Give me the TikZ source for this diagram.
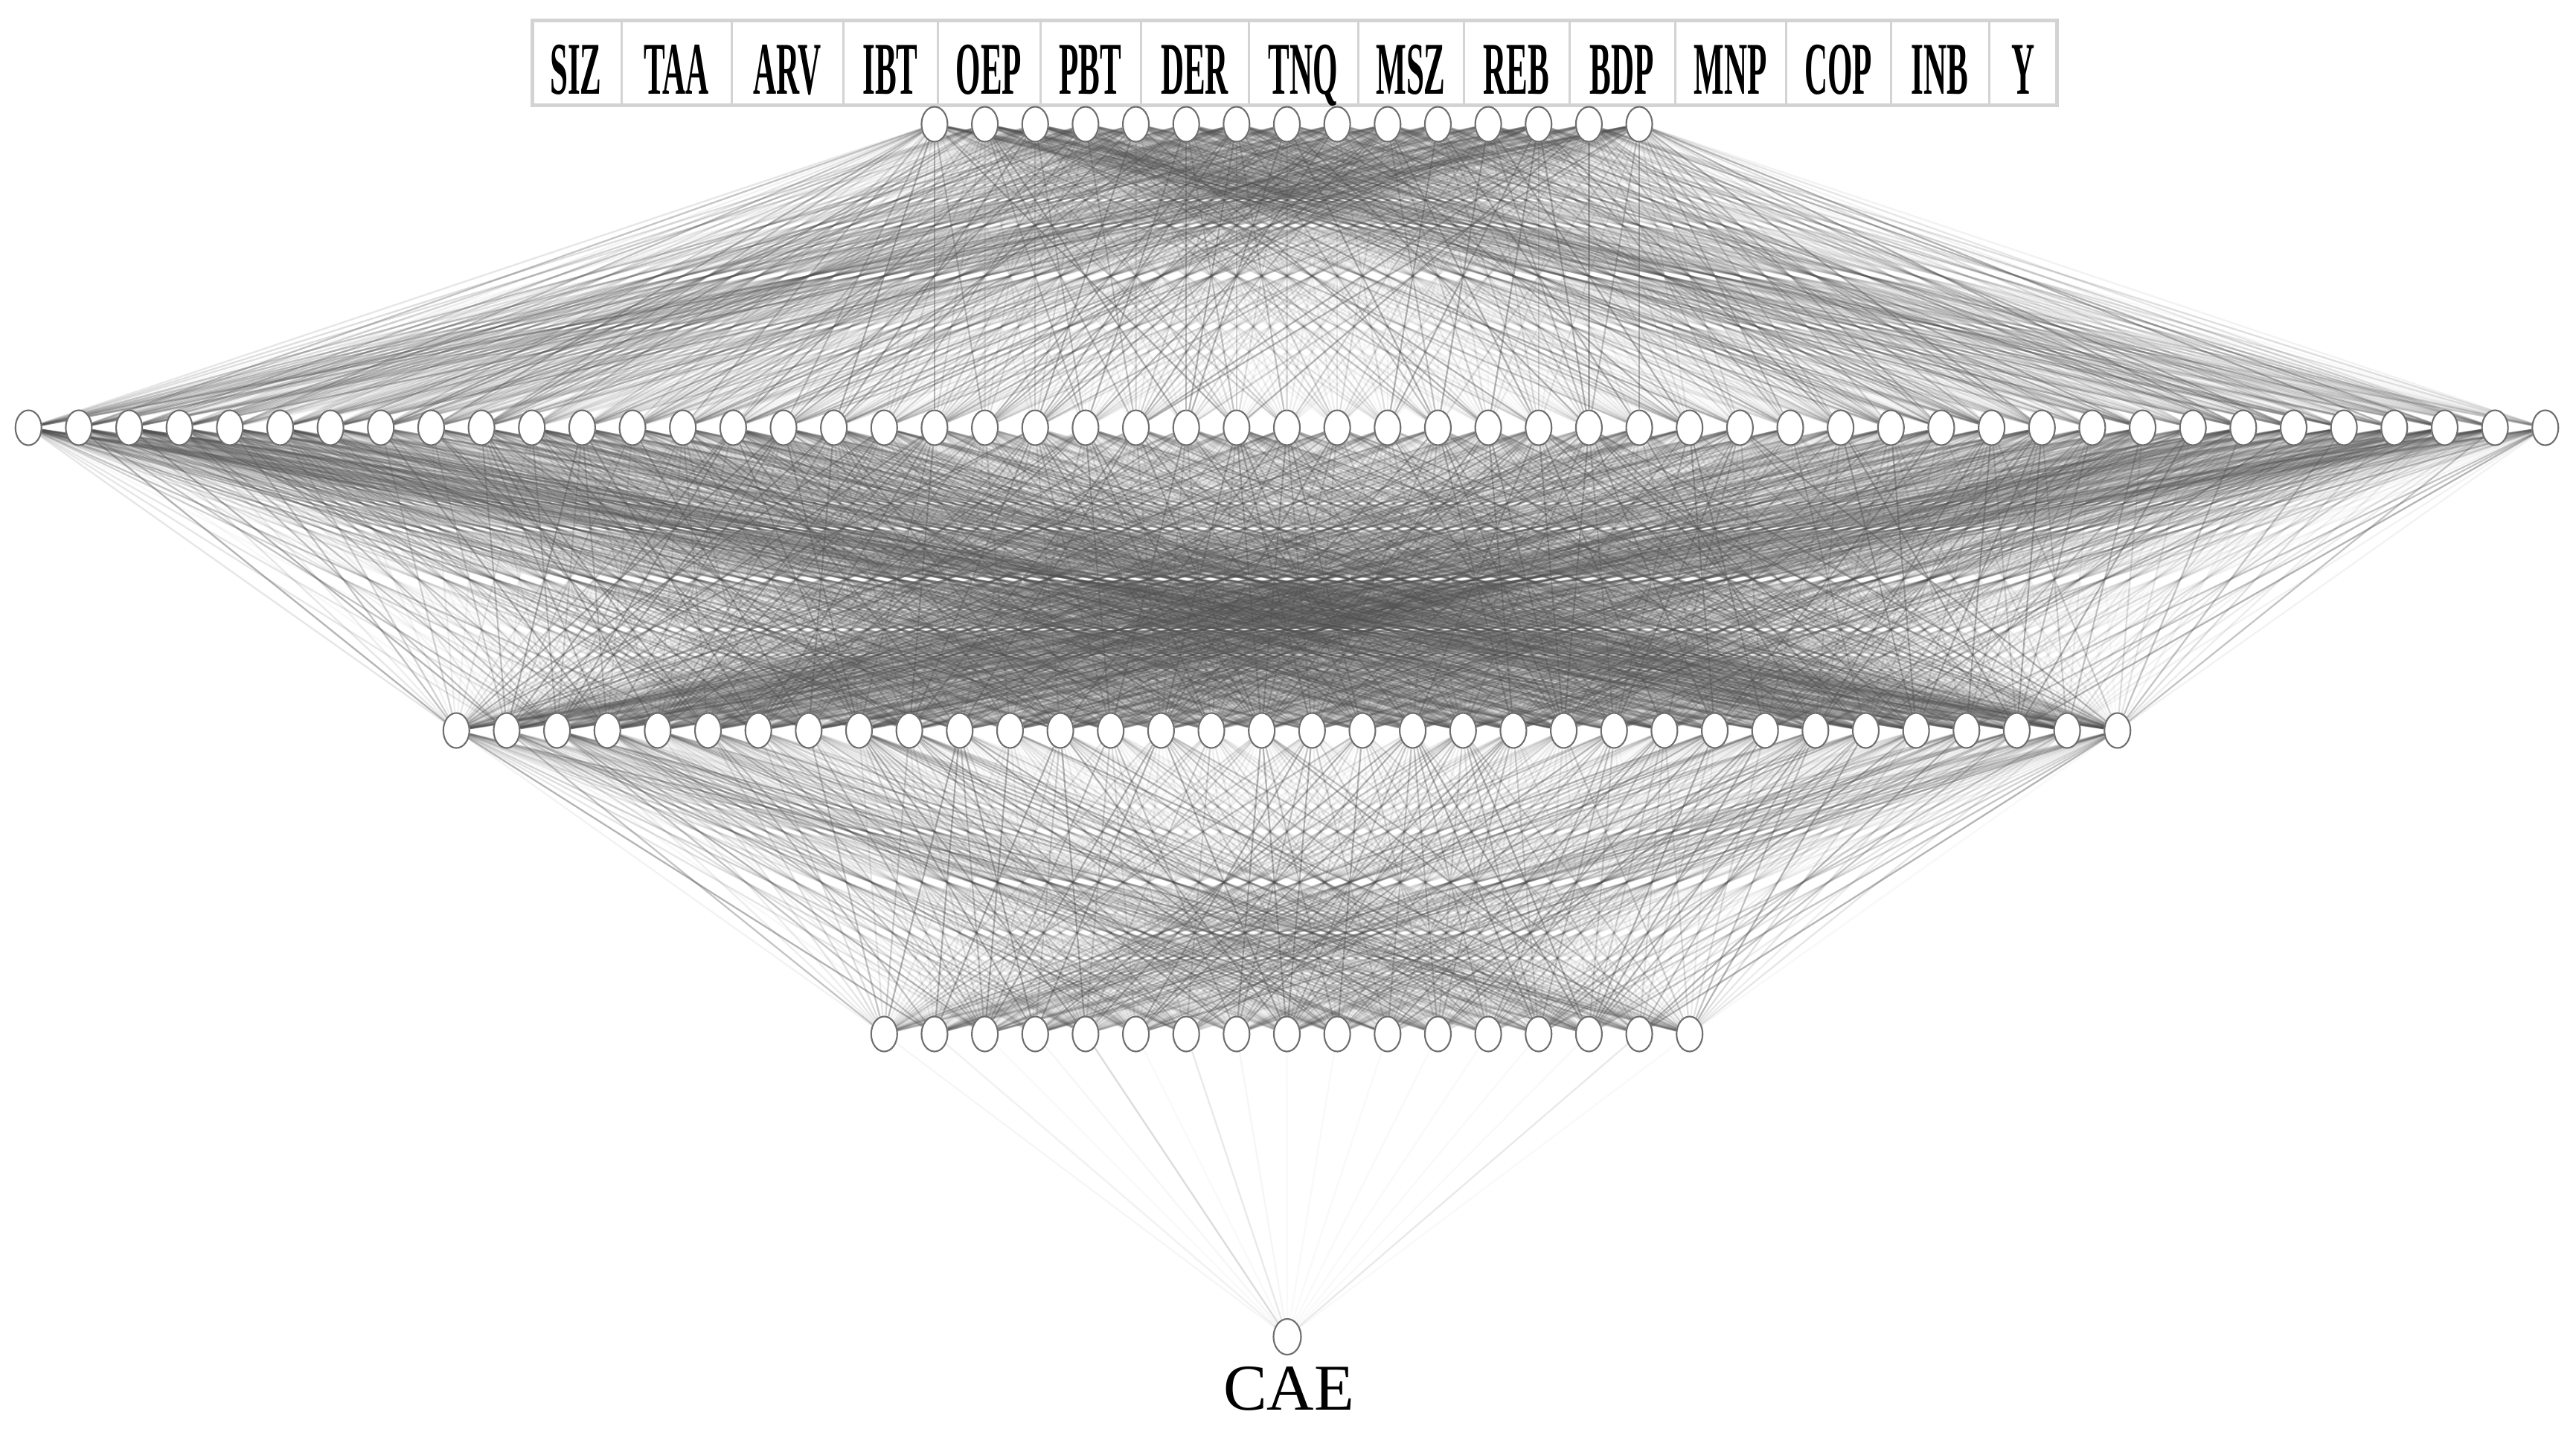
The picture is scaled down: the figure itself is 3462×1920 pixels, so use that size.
\documentclass[tikz,border=0pt]{standalone}
\usepackage{fontspec}
\setmainfont{Liberation Serif}
\usetikzlibrary{shapes.geometric}
\pgfdeclarelayer{bg}
\pgfsetlayers{bg,main}
\definecolor{edgegray}{RGB}{80,80,80}
\definecolor{nodegray}{RGB}{110,110,110}
\definecolor{tablegray}{RGB}{211,211,211}
\begin{document}
\begin{tikzpicture}[x=0.01cm,y=-0.01cm,
  neuron/.style={ellipse,draw=nodegray,line width=0.6pt,fill=white,
    minimum width=0.35cm,minimum height=0.47cm,inner sep=0pt},
  edge/.style={draw=edgegray,line width=0.65pt},
  hdr/.style={font=\fontsize{28.45}{30}\selectfont\bfseries,inner sep=0pt,anchor=base},
  cell/.style={draw=tablegray,line width=0.03cm},
]
\pgfmathsetseed{7}
\useasboundingbox (0,0) rectangle (3462,1920);

% header table
\draw[tablegray,line width=0.05cm] (715,27) rectangle (2764,141);
\foreach \xx in {835,983,1133,1260,1398,1533,1678,1825,1967,2109,2251,2400,2541,2673}
  \draw[cell] (\xx,27) -- (\xx,141);
\foreach \cx/\lab [count=\n] in {774/SIZ,909/TAA,1058/ARV,1196.5/IBT,1329/OEP,1465.5/PBT,1605.5/DER,1751.5/TNQ,1896/MSZ,2038/REB,2180/BDP,2325.5/MNP,2470.5/COP,2607/INB,2719.5/Y}
  \node[hdr] (h\n) at (\cx,126) {\scalebox{0.43}[1]{\lab}};

% neurons
\foreach \k in {1,...,15}  \node[neuron] (a\k) at ({1729.5+(\k-8)*67.65},167) {};
\foreach \k in {1,...,51}  \node[neuron] (b\k) at ({1729.5+(\k-26)*67.65},575) {};
\foreach \k in {1,...,34}  \node[neuron] (c\k) at ({1729.5+(\k-17.5)*67.65},982) {};
\foreach \k in {1,...,17}  \node[neuron] (d\k) at ({1729.5+(\k-9)*67.65},1390) {};
\node[neuron,minimum width=0.37cm,minimum height=0.48cm] (out) at (1730,1797) {};
\node[font=\fontsize{25}{27}\selectfont,inner sep=0pt,anchor=base] (cae) at (1732,1895) {CAE};

% connections
\begin{pgfonlayer}{bg}
\fill[white] (0,0) rectangle (3462,1920);
\foreach \i in {1,...,15}{
  \foreach \j in {1,...,51}{
    \pgfmathrandominteger{\r}{0}{7}
    \pgfmathsetmacro{\op}{{0.04,0.07,0.1,0.14,0.19,0.25,0.33,0.42}[\r]}
    \draw[edge,draw opacity=\op] (a\i) -- (b\j);
  }
}
\foreach \i in {1,...,51}{
  \foreach \j in {1,...,34}{
    \pgfmathrandominteger{\r}{0}{7}
    \pgfmathsetmacro{\op}{{0.04,0.07,0.1,0.14,0.19,0.25,0.33,0.42}[\r]}
    \draw[edge,draw opacity=\op] (b\i) -- (c\j);
  }
}
\foreach \i in {1,...,34}{
  \foreach \j in {1,...,17}{
    \pgfmathrandominteger{\r}{0}{7}
    \pgfmathsetmacro{\op}{{0.04,0.07,0.1,0.14,0.19,0.25,0.33,0.42}[\r]}
    \draw[edge,draw opacity=\op] (c\i) -- (d\j);
  }
}
\foreach \i in {1,...,17}{
  \pgfmathrandominteger{\r}{0}{4}
  \pgfmathsetmacro{\op}{{0.03,0.05,0.08,0.12,0.2}[\r]}
  \draw[edge,draw opacity=\op] (d\i) -- (out);
}
\end{pgfonlayer}
\end{tikzpicture}
\end{document}
